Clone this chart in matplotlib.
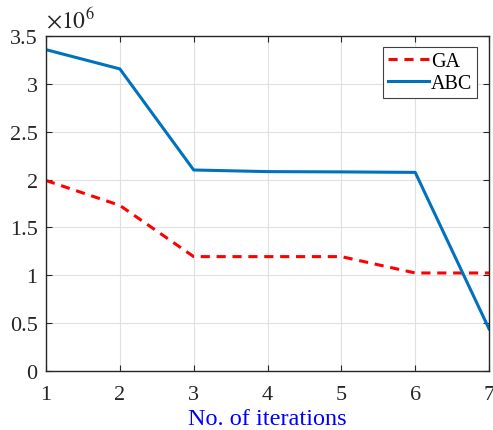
import matplotlib
matplotlib.use("Agg")
import matplotlib.pyplot as plt

iterations = [1, 2, 3, 4, 5, 6, 7]
ga = [1.99e6, 1.73e6, 1.195e6, 1.195e6, 1.195e6, 1.024e6, 1.024e6]
abc = [3.357e6, 3.156e6, 2.10e6, 2.083e6, 2.08e6, 2.075e6, 0.44e6]

plt.rcParams.update({
    "font.family": "Liberation Serif",
    "mathtext.fontset": "stix",
    "font.size": 16,
})

fig = plt.figure(figsize=(4.93, 4.31), dpi=100)
ax = fig.add_axes([0.0933, 0.1369, 0.8987, 0.7773])
ax.plot(iterations, ga, "--", color="#ff0000", linewidth=2.2, dashes=(3, 2.2), label="GA")
ax.plot(iterations, abc, "-", color="#0072bd", linewidth=2.2, label="ABC")

ax.set_xlim(1, 7)
ax.set_ylim(0, 3.5e6)
ax.set_yticks([i * 0.5e6 for i in range(8)])
ax.set_yticklabels(["0", "0.5", "1", "1.5", "2", "2.5", "3", "3.5"])
ax.text(0.0, 1.01, r"$\times 10^{6}$", transform=ax.transAxes, fontsize=17,
        ha="left", va="bottom", color="#262626")
ax.grid(True, color="#e0e0e0", linewidth=0.8)
ax.tick_params(direction="in", top=True, right=True, length=4, colors="#262626",
               labelsize=16)
ax.tick_params(axis="y", pad=6)
ax.tick_params(axis="x", pad=10)
for s in ax.spines.values():
    s.set_color("#262626")
    s.set_linewidth(1.0)
ax.set_xlabel("No. of iterations", color="#0000ff", fontsize=17.5, labelpad=3)

leg = ax.legend(loc="upper right", fontsize=14.5, fancybox=False, edgecolor="#404040",
                framealpha=1, handlelength=2.0, handletextpad=0.1, borderpad=0.25,
                labelspacing=0.15, borderaxespad=0.55, bbox_to_anchor=(0.998, 1.0))
leg.get_frame().set_linewidth(0.8)

fig.savefig("out.png", dpi=100)
